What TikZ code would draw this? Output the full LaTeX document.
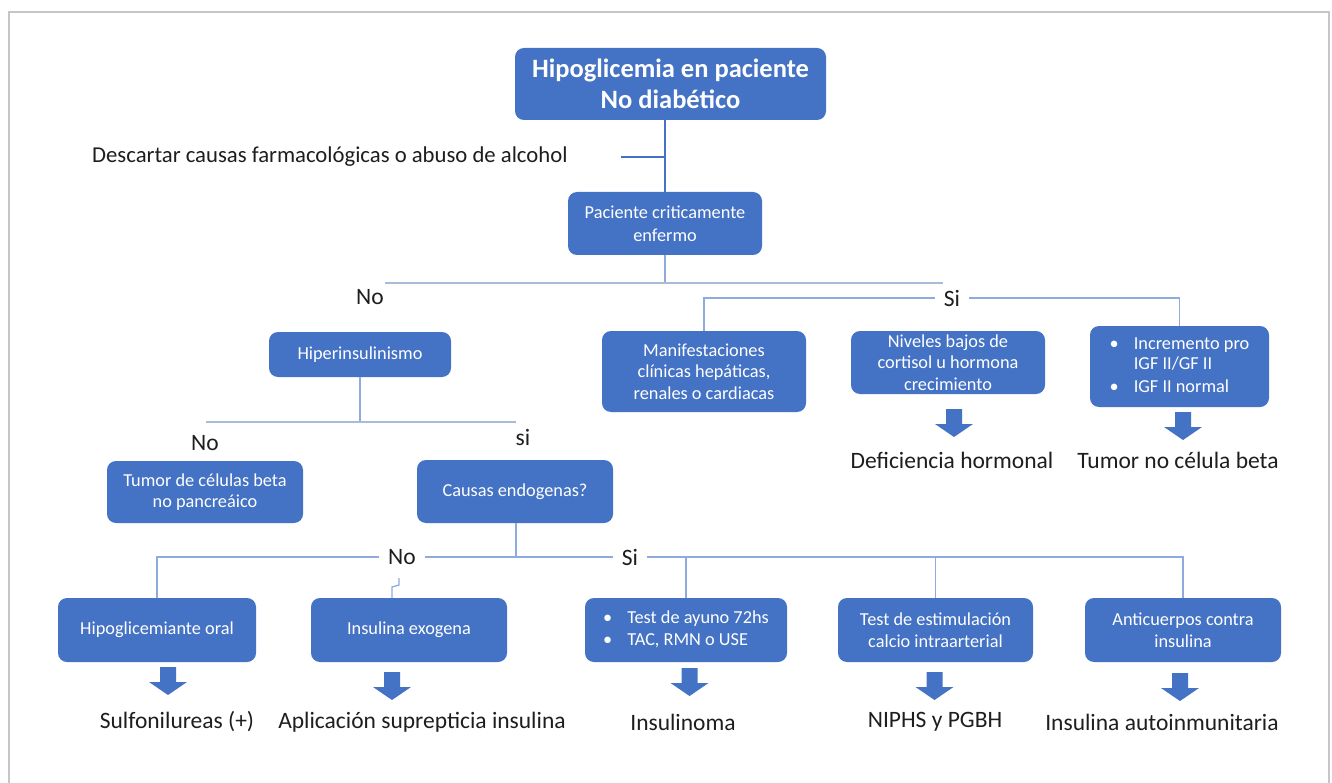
\documentclass[tikz,border=0pt]{standalone}
\usepackage{fontspec}
\setmainfont{Carlito}
\definecolor{boxblue}{HTML}{4472C4}
\definecolor{linkblue}{HTML}{8FAADC}
\definecolor{lightline}{HTML}{AABBDA}
\definecolor{framegray}{HTML}{C6C6C6}
\definecolor{txt}{HTML}{1E1E1E}
\tikzset{
  box/.style={fill=boxblue, rounded corners=9pt, text=white, align=center, inner sep=0pt,
    font=\fontsize{18.3}{21.5}\selectfont},
  lbl/.style={text=txt, font=\fontsize{23.5}{26}\selectfont, inner sep=0pt},
  gap/.style={text=txt, font=\fontsize{23.5}{26}\selectfont, inner sep=0pt, fill=white, inner xsep=9pt},
  link/.style={draw=linkblue, line width=1.3pt},
  mainlink/.style={draw=boxblue, line width=2pt},
  blockarrow/.pic={\fill[boxblue] (-8,0) -- (8,0) -- (8,15) -- (19,15) -- (0,28) -- (-19,15) -- (-8,15) -- cycle;}
}
\begin{document}
\begin{tikzpicture}[x=1pt,y=-1pt]
\useasboundingbox (0,0) rectangle (1332,783);
\fill[white] (0,0) rectangle (1332,783);
\draw[framegray, line width=2pt] (9,800) -- (9,12) -- (1329,12) -- (1329,800);

% nodes
\node[box, minimum width=311pt, minimum height=72pt, font=\fontsize{26.5}{31}\selectfont\bfseries] (top) at (670.5,84) {Hipoglicemia en paciente\\No diabético};
\node[lbl, anchor=west, font=\fontsize{22.7}{26}\selectfont] (desc) at (92,157) {Descartar causas farmacológicas o abuso de alcohol};
\node[box, minimum width=194pt, minimum height=63pt, font=\fontsize{18.3}{23}\selectfont] (pac) at (665,223.5) {Paciente criticamente\\enfermo};

\node[lbl] (no1) at (370,297) {No};
\node[gap] (si1) at (952,298) {Si};

\node[box, minimum width=182pt, minimum height=45pt] (hiper) at (360,354.5) {Hiperinsulinismo};
\node[box, minimum width=204pt, minimum height=81pt] (manif) at (704,371.5) {Manifestaciones\\clínicas hepáticas,\\renales o cardiacas};
\node[box, minimum width=194pt, minimum height=63pt] (nivel) at (948,362.5) {Niveles bajos de\\cortisol u hormona\\crecimiento};
\node[box, minimum width=179pt, minimum height=81pt] (igf) at (1179.5,366.5) {\begin{tabular}{@{}l@{\hspace{15pt}}l@{}}\textbullet & Incremento pro\\[-1pt] & IGF II/GF II\\[1pt] \textbullet & IGF II normal\end{tabular}};

\node[lbl] (def) at (952,460) {Deficiencia hormonal};
\node[lbl] (tnb) at (1178,460) {Tumor no célula beta};

\node[lbl] (no2) at (205,443) {No};
\node[lbl] (si2) at (523,438) {si};
\node[box, minimum width=196pt, minimum height=62pt] (tbeta) at (205,492) {Tumor de células beta\\no pancreáico};
\node[box, minimum width=196pt, minimum height=63pt] (causas) at (515,491.5) {Causas endogenas?};

\node[gap] (no3) at (402,557) {No};
\node[gap] (si3) at (630,557) {Si};

\node[box, minimum width=198pt, minimum height=64pt] (hipog) at (157,630) {Hipoglicemiante oral};
\node[box, minimum width=196pt, minimum height=64pt] (insexo) at (409,630) {Insulina exogena};
\node[box, minimum width=202pt, minimum height=64pt] (ayuno) at (686,630) {\begin{tabular}{@{}l@{\hspace{15pt}}l@{}}\textbullet & Test de ayuno 72hs\\ \textbullet & TAC, RMN o USE\end{tabular}};
\node[box, minimum width=195pt, minimum height=64pt] (estim) at (935.5,630) {Test de estimulación\\calcio intraarterial};
\node[box, minimum width=196pt, minimum height=64pt] (antic) at (1183,630) {Anticuerpos contra\\insulina};

\node[lbl] (sulf) at (177,722) {Sulfonilureas (+)};
\node[lbl] (aplic) at (422,722) {Aplicación suprepticia insulina};
\node[lbl] (insul) at (683,722) {Insulinoma};
\node[lbl] (niphs) at (935,722) {NIPHS y PGBH};
\node[lbl] (autoi) at (1162,722) {Insulina autoinmunitaria};

% block arrows
\pic at (954,409) {blockarrow};
\pic at (1183,412) {blockarrow};
\pic at (168,667) {blockarrow};
\pic at (392,672) {blockarrow};
\pic at (689.5,668) {blockarrow};
\pic at (934.5,672) {blockarrow};
\pic at (1180,673) {blockarrow};

% coordinates
\coordinate (dl) at (621,157);
\coordinate (j1) at (665,283);
\coordinate (h1l) at (385,283);
\coordinate (h1r) at (943,283);
\coordinate (j2) at (360,422);
\coordinate (h2l) at (206,422);
\coordinate (h2r) at (516,422);
\coordinate (j3) at (516,557);
\coordinate (sq1) at (399,578);
\coordinate (sq2) at (399,585);
\coordinate (sq3) at (392,587);

% connectors
\draw[mainlink] (top.south -| pac.north) -- (pac.north);
\draw[mainlink] (dl) -- (dl -| pac.north);
\draw[link] (pac.south) -- (j1);
\draw[draw=lightline, line width=2.7pt] (h1l) -- (h1r);
\draw[link] (manif.north) |- (si1.west);
\draw[link] (si1.east) -| (igf.north);
\draw[link] (hiper.south) -- (j2);
\draw[draw=lightline, line width=2pt] (h2l) -- (h2r);
\draw[link] (causas.south -| j3) -- (j3);
\draw[link] (hipog.north) |- (no3.west);
\draw[link] (no3.east) -- (si3.west);
\draw[link] (si3.east) -| (antic.north);
\draw[link] (ayuno.north) -- (ayuno.north |- j3);
\draw[link] (estim.north) -- (estim.north |- j3);
\draw[link] (sq1) -- (sq2) -- (sq3) -- (sq3 |- insexo.north);
\end{tikzpicture}
\end{document}
